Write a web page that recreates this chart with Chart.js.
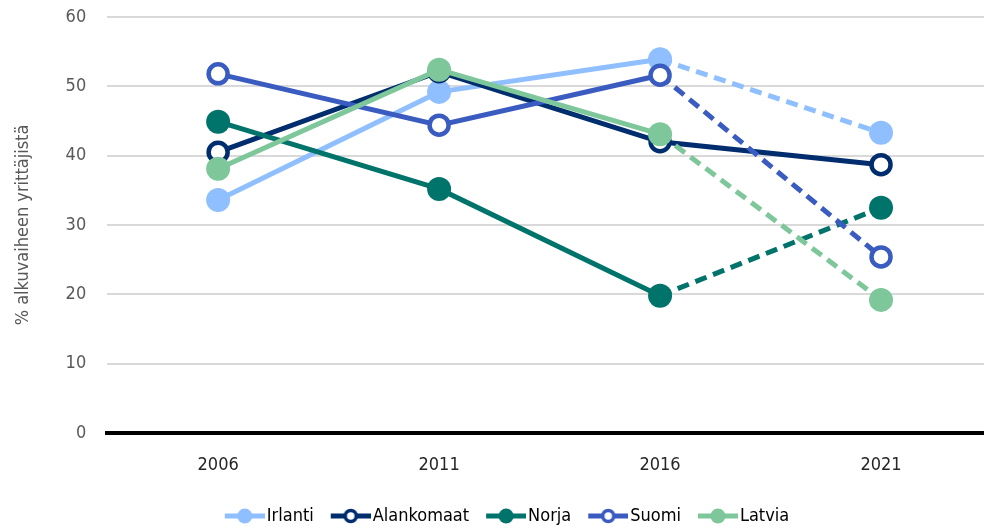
<!DOCTYPE html>
<html>
<head>
<meta charset="utf-8">
<script src="https://cdn.jsdelivr.net/npm/chart.js@4/dist/chart.umd.min.js"></script>
<style>
  html, body { margin: 0; padding: 0; background: #fff; }
  #wrap { width: 984px; height: 528px; }
</style>
</head>
<body>
<div id="wrap"><canvas id="chart" width="984" height="528"></canvas></div>
<script>
// vuodet ja sarjat
const years = [2006, 2011, 2016, 2021];
const irlanti = [33.6, 49.2, 53.9, 43.3];
const alankomaat = [40.5, 52.1, 42.0, 38.7];
const norja = [44.9, 35.2, 19.8, 32.5];
const suomi = [51.8, 44.4, 51.6, 25.4];
const latvia = [38.1, 52.4, 43.1, 19.2];
const yTicks = [0, 10, 20, 30, 40, 50, 60];

const FONT = "'DejaVu Sans Condensed', 'Liberation Sans Narrow', sans-serif";

// legendan kuvake: viiva + pallo, piirretty laatikon yli oikealle
const legendIcon = (color, hollow) => {
    const c = document.createElement('canvas');
    c.width = 64; c.height = 20;
    const g = c.getContext('2d');
    g.strokeStyle = color; g.lineWidth = 5;
    g.beginPath(); g.moveTo(24, 10); g.lineTo(64, 10); g.stroke();
    g.beginPath(); g.arc(44, 10, hollow ? 5.5 : 7.5, 0, Math.PI * 2);
    g.fillStyle = hollow ? '#fff' : color; g.fill();
    if (hollow) { g.lineWidth = 3.5; g.stroke(); }
    return c;
};

const makeSet = (label, values, color, hollow, dashed, order) => ({
    label,
    data: years.map((x, i) => ({ x, y: values[i] })),
    borderColor: color,
    backgroundColor: hollow ? '#fff' : color,
    pointBackgroundColor: hollow ? '#fff' : color,
    pointBorderColor: color,
    pointBorderWidth: hollow ? 4.5 : 0,
    pointRadius: hollow ? 9.5 : 12,
    pointHoverRadius: hollow ? 9.5 : 12,
    borderWidth: 5,
    order,
    icon: legendIcon(color, hollow),
    segment: { borderDash: ctx => (dashed && ctx.p0DataIndex === 2) ? [12, 7] : undefined }
});

const datasets = [
    makeSet('Irlanti', irlanti, '#8FBFFF', false, true, 5),
    makeSet('Alankomaat', alankomaat, '#002D6E', true, false, 4),
    makeSet('Norja', norja, '#00736B', false, true, 3),
    makeSet('Suomi', suomi, '#3A5BC0', true, true, 2),
    makeSet('Latvia', latvia, '#7DC79A', false, true, 1)
];

// legendan alle jäävä ylimääräinen tyhjä tila pois
const tightLegend = {
    id: 'tightLegend',
    beforeLayout(chart) {
        const lg = chart.legend;
        if (!lg || lg._tight) return;
        const fit = lg.fit;
        lg.fit = function () { fit.call(this); this.height -= 7; };
        lg._tight = true;
    }
};

new Chart(document.getElementById('chart'), {
    type: 'line',
    data: { datasets },
    plugins: [tightLegend],
    options: {
        responsive: false,
        animation: false,
        layout: { autoPadding: false, padding: { top: 0, right: 0, bottom: 0, left: 13 } },
        scales: {
            x: {
                type: 'linear',
                min: 2003.49,
                max: 2023.33,
                afterBuildTicks: axis => { axis.ticks = years.map(v => ({ value: v })); },
                afterFit: axis => { axis.height = 74; },
                grid: { display: false, drawTicks: false },
                border: { display: true, color: '#000', width: 4 },
                ticks: { color: '#262626', font: { family: FONT, size: 18 }, padding: 22, callback: v => String(v) }
            },
            y: {
                min: 0,
                max: 60,
                afterBuildTicks: axis => { axis.ticks = yTicks.map(v => ({ value: v })); },
                afterFit: axis => { axis.paddingTop = 17; axis.paddingBottom = 0; },
                grid: { color: '#d9d9d9', lineWidth: 2, drawTicks: false },
                border: { display: false },
                ticks: { color: '#595959', font: { family: FONT, size: 18 }, padding: 21 },
                title: {
                    display: true,
                    text: '% alkuvaiheen yrittäjistä',
                    color: '#595959',
                    font: { family: FONT, size: 18 },
                    padding: { top: 0, bottom: 10 }
                }
            }
        },
        plugins: {
            tooltip: { enabled: false },
            legend: {
                position: 'bottom',
                labels: {
                    usePointStyle: true,
                    pointStyleWidth: 50,
                    padding: 0,
                    color: '#000',
                    font: { family: FONT, size: 18, lineHeight: 1.0 },
                    generateLabels: chart => chart.data.datasets.map((ds, i) => ({
                        text: ds.label,
                        pointStyle: ds.icon,
                        datasetIndex: i,
                        fontColor: '#000',
                        hidden: false,
                        lineWidth: 0,
                        strokeStyle: 'transparent',
                        fillStyle: 'transparent'
                    }))
                }
            }
        }
    }
});
</script>
</body>
</html>
